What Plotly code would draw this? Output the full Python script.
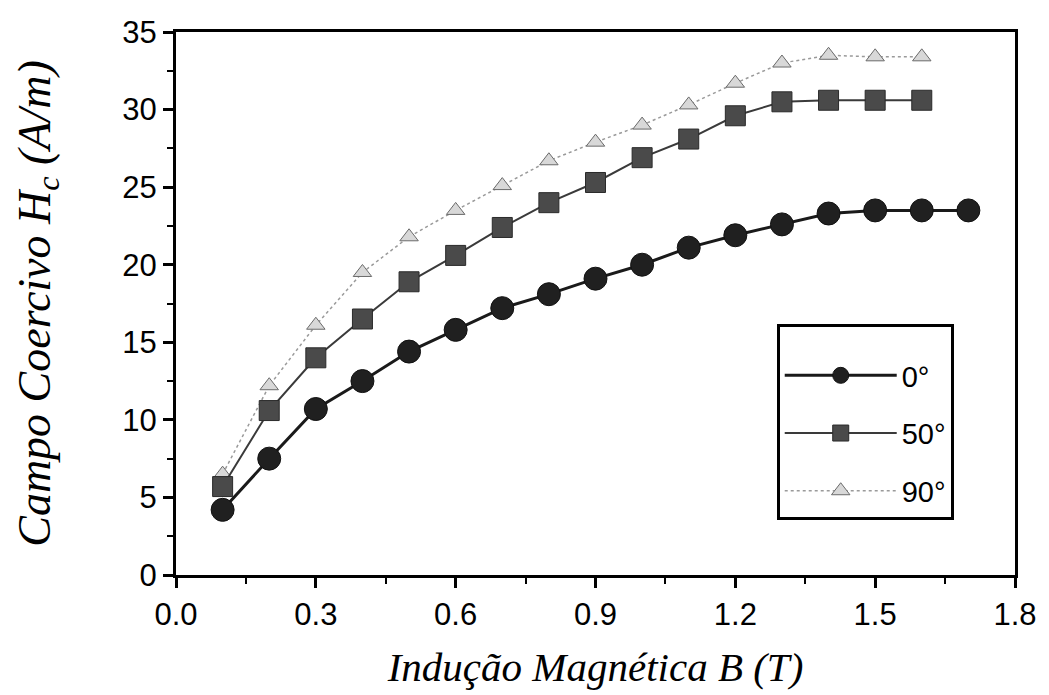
import plotly.graph_objects as go

# Data
b_0 = [0.1, 0.2, 0.3, 0.4, 0.5, 0.6, 0.7, 0.8, 0.9, 1.0, 1.1, 1.2, 1.3, 1.4, 1.5, 1.6, 1.7]
hc_0 = [4.2, 7.5, 10.7, 12.5, 14.4, 15.8, 17.2, 18.1, 19.1, 20.0, 21.1, 21.9, 22.6, 23.3, 23.5, 23.5, 23.5]

b_50 = [0.1, 0.2, 0.3, 0.4, 0.5, 0.6, 0.7, 0.8, 0.9, 1.0, 1.1, 1.2, 1.3, 1.4, 1.5, 1.6]
hc_50 = [5.7, 10.6, 14.0, 16.5, 18.9, 20.6, 22.4, 24.0, 25.3, 26.9, 28.1, 29.6, 30.5, 30.6, 30.6, 30.6]

b_90 = [0.1, 0.2, 0.3, 0.4, 0.5, 0.6, 0.7, 0.8, 0.9, 1.0, 1.1, 1.2, 1.3, 1.4, 1.5, 1.6]
hc_90 = [6.5, 12.2, 16.1, 19.5, 21.8, 23.5, 25.1, 26.7, 27.9, 29.0, 30.3, 31.7, 33.0, 33.5, 33.4, 33.4]

labels = ["0°", "50°", "90°"]
x_ticks = [0.0, 0.3, 0.6, 0.9, 1.2, 1.5, 1.8]
x_ticklabels = ["0.0", "0.3", "0.6", "0.9", "1.2", "1.5", "1.8"]
y_ticks = [0, 5, 10, 15, 20, 25, 30, 35]

fig = go.Figure()

fig.add_trace(go.Scatter(
    x=b_90, y=hc_90, name=labels[2], mode="lines+markers", legendgroup="c", legendrank=3,
    line=dict(color="#9a9a9a", width=1.5, dash="dot"),
    marker=dict(symbol="triangle-up", size=16, color="#d8d8d8",
                line=dict(color="#6a6a6a", width=1)),
))
fig.add_trace(go.Scatter(
    x=b_50, y=hc_50, name=labels[1], mode="lines+markers", legendgroup="b", legendrank=2,
    line=dict(color="#3a3a3a", width=2),
    marker=dict(symbol="square", size=20, color="#4a4a4a",
                line=dict(color="#2a2a2a", width=1)),
))
fig.add_trace(go.Scatter(
    x=b_0, y=hc_0, name=labels[0], mode="lines+markers", legendgroup="a", legendrank=1,
    line=dict(color="#1a1a1a", width=3),
    marker=dict(symbol="circle", size=23, color="#202020",
                line=dict(color="#111111", width=1)),
))

fig.update_layout(
    width=1049, height=695,
    margin=dict(l=176, r=32, t=32, b=117),
    paper_bgcolor="white", plot_bgcolor="white",
    font=dict(family="Liberation Sans, Arial, sans-serif", color="black"),
    legend=dict(
        x=0.716, y=0.463, xanchor="left", yanchor="top",
        bordercolor="black", borderwidth=3, bgcolor="white",
        font=dict(size=29, family="Liberation Sans, Arial, sans-serif"),
        title=dict(text=" ", font=dict(size=18)),
        traceorder="grouped", tracegroupgap=17, itemwidth=112,
    ),
    showlegend=True,
)

fig.update_xaxes(
    range=[0.0, 1.8], tickmode="array", tickvals=x_ticks, ticktext=x_ticklabels,
    ticks="outside", ticklen=10, tickwidth=2.5, tickcolor="black",
    minor=dict(ticks="outside", ticklen=6, tickwidth=2, dtick=0.15, tickcolor="black"),
    showline=True, linecolor="black", linewidth=3, mirror=True,
    showgrid=False, zeroline=False,
    tickfont=dict(size=31, family="Liberation Sans, Arial, sans-serif"),
    title=dict(text="Indução Magnética B (T)",
               font=dict(size=41, family="Liberation Serif, Times New Roman, serif", style="italic"),
               standoff=22),
)
fig.update_yaxes(
    range=[0, 35], tickmode="array", tickvals=y_ticks,
    ticks="outside", ticklen=10, tickwidth=2.5, tickcolor="black",
    minor=dict(ticks="outside", ticklen=6, tickwidth=2, dtick=2.5, tickcolor="black"),
    showline=True, linecolor="black", linewidth=3, mirror=True,
    showgrid=False, zeroline=False,
    tickfont=dict(size=31, family="Liberation Sans, Arial, sans-serif"),
    title=dict(text="Campo Coercivo H<sub>c</sub> (A/m)",
               font=dict(size=46, family="Liberation Serif, Times New Roman, serif", style="italic"),
               standoff=58),
)

fig.write_html("out.html")
